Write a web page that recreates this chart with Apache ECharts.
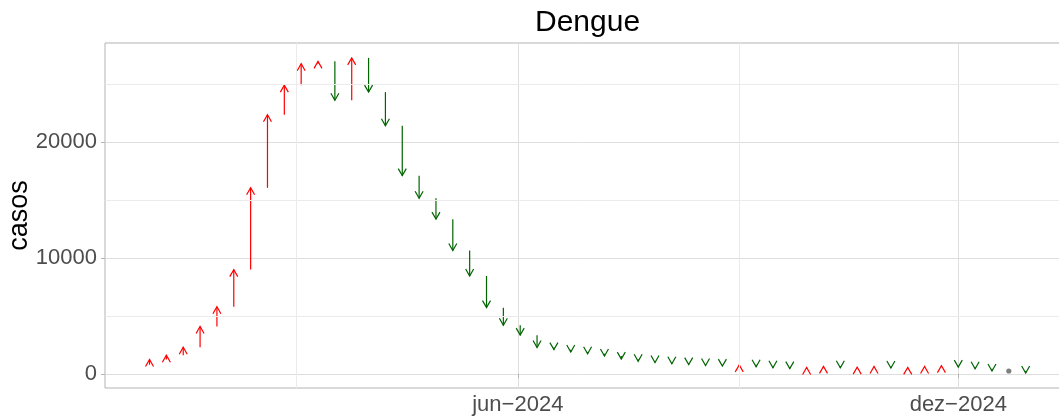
<!DOCTYPE html>
<html lang="pt-BR">
<head>
<meta charset="UTF-8">
<title>Dengue</title>
<script src="https://cdn.jsdelivr.net/npm/echarts@6/dist/echarts.min.js"></script>
<style>
  html, body { margin: 0; padding: 0; background: #fff; }
  #main { width: 1059px; height: 417px; }
</style>
</head>
<body>
<div id="main"></div>
<script>
// semanas epidemiológicas de 2024 (domingo de início)
var semanas = [
  '2023-12-31', '2024-01-07', '2024-01-14', '2024-01-21', '2024-01-28',
  '2024-02-04', '2024-02-11', '2024-02-18', '2024-02-25',
  '2024-03-03', '2024-03-10', '2024-03-17', '2024-03-24', '2024-03-31',
  '2024-04-07', '2024-04-14', '2024-04-21', '2024-04-28',
  '2024-05-05', '2024-05-12', '2024-05-19', '2024-05-26',
  '2024-06-02', '2024-06-09', '2024-06-16', '2024-06-23', '2024-06-30',
  '2024-07-07', '2024-07-14', '2024-07-21', '2024-07-28',
  '2024-08-04', '2024-08-11', '2024-08-18', '2024-08-25',
  '2024-09-01', '2024-09-08', '2024-09-15', '2024-09-22', '2024-09-29',
  '2024-10-06', '2024-10-13', '2024-10-20', '2024-10-27',
  '2024-11-03', '2024-11-10', '2024-11-17', '2024-11-24',
  '2024-12-01', '2024-12-08', '2024-12-15', '2024-12-22', '2024-12-29'
];
// casos por semana
var casos = [
  1250, 1620, 2300, 4100, 5800,
  9000, 16050, 22350, 24900,
  26750, 26950, 23600, 27250, 24300,
  21400, 17100, 15150, 13350,
  10650, 8450, 5720, 4200,
  3350, 2280, 2100, 1900, 1750,
  1550, 1280, 1100, 990,
  890, 810, 730, 680,
  790, 620, 540, 460, 560,
  660, 540, 590, 650,
  520, 570, 650, 720,
  590, 450, 260, 260, 90
];
// última semana de 2023 (origem da primeira seta)
var casoSemanaAnterior = 800;

var quebrasX = ['2024-06-01', '2024-12-01'];
var quebrasMenoresX = ['2024-03-01', '2024-09-01'];
var quebrasY = [0, 10000, 20000];
var quebrasMenoresY = [5000, 15000, 25000];
var meses = ['jan', 'fev', 'mar', 'abr', 'mai', 'jun', 'jul', 'ago', 'set', 'out', 'nov', 'dez'];

function dia(s) {
  var p = s.split('-');
  return new Date(+p[0], +p[1] - 1, +p[2]).getTime();
}

var setas = semanas.map(function (s, i) {
  return [dia(s), i === 0 ? casoSemanaAnterior : casos[i - 1], casos[i]];
});

var linhasMenores = quebrasMenoresY.map(function (v) { return { yAxis: v }; })
  .concat(quebrasMenoresX.map(function (d) { return { xAxis: dia(d) }; }));

function desenhaSeta(params, api) {
  var x = api.value(0), de = api.value(1), para = api.value(2);
  var p0 = api.coord([x, de]);
  var p1 = api.coord([x, para]);
  if (de === para) {
    return { type: 'circle', shape: { cx: p1[0], cy: p1[1], r: 2.6 }, style: { fill: '#7f7f7f' } };
  }
  var sobe = para > de;
  var cor = sobe ? '#ff0000' : '#006400';
  var h = sobe ? 7 : -7;
  return {
    type: 'group',
    children: [
      { type: 'line', shape: { x1: p0[0], y1: p0[1], x2: p1[0], y2: p1[1] },
        style: { stroke: cor, lineWidth: 1.2 } },
      { type: 'polyline', shape: { points: [[p1[0] - 4, p1[1] + h], [p1[0], p1[1]], [p1[0] + 4, p1[1] + h]] },
        style: { stroke: cor, fill: null, lineWidth: 1.2 } }
    ]
  };
}

var chart = echarts.init(document.getElementById('main'));

chart.setOption({
  animation: false,
  backgroundColor: '#ffffff',
  textStyle: { fontFamily: 'Liberation Sans' },
  title: {
    text: 'Dengue',
    left: 535,
    top: 8,
    padding: 0,
    textStyle: { fontSize: 30, fontWeight: 'normal', color: '#000000', fontFamily: 'Liberation Sans' }
  },
  grid: {
    left: 105, right: -10, top: 43, bottom: 29,
    outerBoundsMode: 'none',
    containLabel: false,
    show: true, borderColor: '#b3b3b3', borderWidth: 1, backgroundColor: 'transparent'
  },
  xAxis: {
    type: 'value',
    min: dia('2023-12-12') + 12 * 3600 * 1000,
    max: dia('2025-01-16'),
    axisLine: { show: false },
    axisTick: { show: true, length: 4, lineStyle: { color: '#b3b3b3' }, customValues: quebrasX.map(dia) },
    axisLabel: {
      customValues: quebrasX.map(dia),
      margin: 6,
      fontSize: 22,
      color: '#4d4d4d',
      fontFamily: 'Liberation Sans',
      formatter: function (v) {
        var d = new Date(v);
        return meses[d.getMonth()] + '\u2212' + d.getFullYear();
      }
    },
    splitLine: { show: true, lineStyle: { color: '#dedede', width: 1 } }
  },
  yAxis: {
    type: 'value',
    min: -1207,
    max: 28534,
    name: 'casos',
    nameLocation: 'middle',
    nameGap: 72,
    nameMoveOverlap: false,
    nameTextStyle: { fontSize: 27, color: '#000000', fontFamily: 'Liberation Sans' },
    axisLine: { show: false },
    axisTick: { show: true, length: 4, lineStyle: { color: '#b3b3b3' }, customValues: quebrasY },
    axisLabel: {
      customValues: quebrasY,
      margin: 8,
      fontSize: 22,
      color: '#4d4d4d',
      fontFamily: 'Liberation Sans',
      padding: [4, 0, 0, 0],
      formatter: function (v) { return String(v); }
    },
    splitLine: { show: true, lineStyle: { color: '#dedede', width: 1 } }
  },
  series: [
    {
      type: 'line',
      data: [],
      z: 1,
      markLine: {
        silent: true,
        symbol: 'none',
        label: { show: false },
        lineStyle: { color: '#ebebeb', width: 1, type: 'solid' },
        data: linhasMenores
      }
    },
    {
      type: 'custom',
      z: 2,
      encode: { x: 0, y: [1, 2] },
      renderItem: desenhaSeta,
      data: setas
    }
  ]
});
</script>
</body>
</html>
